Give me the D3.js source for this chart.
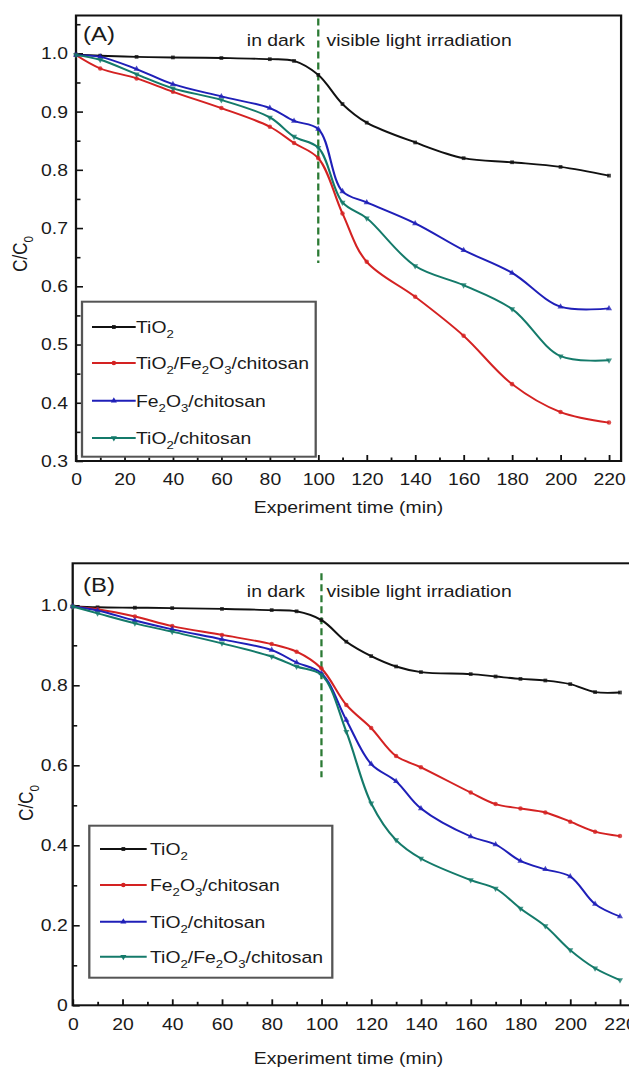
<!DOCTYPE html>
<html><head><meta charset="utf-8">
<script src="https://cdn.jsdelivr.net/npm/d3@7"></script>
<style>
html,body{margin:0;padding:0;background:#fff;}
svg{display:block;}
text{font-family:"Liberation Sans", Arial, sans-serif;}
</style>
</head><body><svg id="c"></svg>
<script>
// ---------------- DATA ----------------
const timeA = [0,10,25,40,60,80,90,100,110,120,140,160,180,200,220];
const tio2A        = [0.998,0.996,0.994,0.993,0.992,0.990,0.987,0.963,0.913,0.881,0.847,0.820,0.813,0.805,0.790];
const tio2Fe2o3ChA = [0.997,0.974,0.957,0.934,0.906,0.874,0.846,0.820,0.725,0.642,0.582,0.515,0.432,0.384,0.366];
const fe2o3ChA     = [0.997,0.994,0.973,0.947,0.926,0.906,0.884,0.870,0.763,0.744,0.708,0.662,0.623,0.565,0.562];
const tio2ChA      = [0.997,0.989,0.964,0.940,0.920,0.890,0.857,0.838,0.744,0.717,0.635,0.602,0.561,0.480,0.473];

const timeB = [0,10,25,40,60,80,90,100,110,120,130,140,160,170,180,190,200,210,220];
const tio2B        = [0.997,0.995,0.994,0.993,0.991,0.988,0.985,0.963,0.909,0.873,0.847,0.833,0.828,0.822,0.816,0.812,0.803,0.783,0.782];
const fe2o3ChB     = [0.997,0.990,0.972,0.948,0.926,0.903,0.884,0.842,0.751,0.693,0.623,0.595,0.532,0.503,0.492,0.482,0.459,0.434,0.423];
const tio2ChB      = [0.997,0.987,0.962,0.940,0.915,0.888,0.857,0.830,0.713,0.603,0.560,0.492,0.422,0.402,0.361,0.340,0.322,0.253,0.222];
const tio2Fe2o3ChB = [0.997,0.980,0.955,0.934,0.905,0.872,0.847,0.826,0.684,0.505,0.413,0.367,0.313,0.292,0.242,0.198,0.138,0.0925,0.063];

const namesA = ["TiO_2","TiO_2/Fe_2O_3/chitosan","Fe_2O_3/chitosan","TiO_2/chitosan"];
const namesB = ["TiO_2","Fe_2O_3/chitosan","TiO_2/chitosan","TiO_2/Fe_2O_3/chitosan"];

const xTicks = [0,20,40,60,80,100,120,140,160,180,200,220];
const xTickLabels = ["0","20","40","60","80","100","120","140","160","180","200","220"];
const xMinor = [10,30,50,70,90,110,130,150,170,190,210];
const yTicksA = [0.3,0.4,0.5,0.6,0.7,0.8,0.9,1.0];
const yTickLabelsA = ["0.3","0.4","0.5","0.6","0.7","0.8","0.9","1.0"];
const yMinorA = [0.35,0.45,0.55,0.65,0.75,0.85,0.95,1.05];
const yTicksB = [0,0.2,0.4,0.6,0.8,1.0];
const yTickLabelsB = ["0","0.2","0.4","0.6","0.8","1.0"];
const yMinorB = [0.1,0.3,0.5,0.7,0.9];

const darkLabel = "in dark";
const lightLabel = "visible light irradiation";
const xTitle = "Experiment time (min)";
const yTitle = "C/C_0";

// ---------------- STYLE / LAYOUT ----------------
const W = 629, H = 1068, S = 1.14;
const X = px => px / S;
const C = {black:"#111111", red:"#d42222", blue:"#1f1fb8", teal:"#147a6a"};

const svg = d3.select("#c").attr("width", W).attr("height", H)
  .attr("viewBox", `0 0 ${W/S} ${H}`).attr("preserveAspectRatio","none");

function rich(sel, s, fs) {
  const parts = s.split(/_(\d)/);
  let down = false;
  parts.forEach((p, i) => {
    const sub = i % 2 === 1;
    if (p === "") return;
    const t = sel.append("tspan").text(p);
    if (sub) { t.attr("font-size", fs*0.68).attr("dy", fs*0.32); down = true; }
    else if (down) { t.attr("dy", -fs*0.32); down = false; }
  });
}

const symbols = {
  square: d3.symbol().type(d3.symbolSquare).size(14)(),
  circle: d3.symbol().type(d3.symbolCircle).size(16)(),
  tri: d3.symbol().type(d3.symbolTriangle).size(16)(),
};

function drawPanel(cfg) {
  const g = svg.append("g");
  const x = d3.scaleLinear().domain([0,225]).range([X(cfg.left), X(cfg.right)]);
  const y = d3.scaleLinear().domain(cfg.yDomain).range([cfg.bottom, cfg.top]);

  const fs = 17;
  const xa = g.append("g").attr("transform", `translate(0,${cfg.bottom})`)
    .call(d3.axisBottom(x).tickValues(xTicks).tickSize(-6).tickPadding(cfg.xPad)
      .tickFormat((d,i) => xTickLabels[i]));
  const xm = g.append("g").attr("transform", `translate(0,${cfg.bottom})`)
    .call(d3.axisBottom(x).tickValues(xMinor).tickSize(-3.5).tickFormat(""));
  const ya = g.append("g").attr("transform", `translate(${X(cfg.left)},0)`)
    .call(d3.axisLeft(y).tickValues(cfg.yTicks).tickSize(-7/S).tickPadding(cfg.yPad/S)
      .tickFormat((d,i) => cfg.yLabels[i]));
  const ym = g.append("g").attr("transform", `translate(${X(cfg.left)},0)`)
    .call(d3.axisLeft(y).tickValues(cfg.yMinor).tickSize(-4.5/S).tickFormat(""));
  [xa, xm, ya, ym].forEach(a => {
    a.select(".domain").remove();
    a.attr("font-size", fs).attr("font-family", '"Liberation Sans", Arial, sans-serif');
    a.selectAll("line").attr("stroke", "#111").attr("stroke-width", 1.6);
    a.selectAll("text").attr("fill", "#1a1a1a");
  });

  g.append("rect").attr("x", X(cfg.left)).attr("y", cfg.top)
    .attr("width", X(cfg.right) - X(cfg.left)).attr("height", cfg.bottom - cfg.top)
    .attr("fill", "none").attr("stroke", "#111").attr("stroke-width", 2);

  g.append("line").attr("x1", x(100)).attr("x2", x(100))
    .attr("y1", y(cfg.dashTop)).attr("y2", y(cfg.dashBottom))
    .attr("stroke", "#2b7a34").attr("stroke-width", 2).attr("stroke-dasharray", "7,4");

  const line = d3.line().x(d => x(d[0])).y(d => y(d[1])).curve(d3.curveCatmullRom.alpha(0.5));
  cfg.series.forEach(s => {
    const pts = cfg.time.map((t, i) => [t, s.values[i]]);
    g.append("path").datum(pts).attr("d", line).attr("fill", "none")
      .attr("stroke", s.color).attr("stroke-width", 1.9);
    g.selectAll(null).data(pts).enter().append("path")
      .attr("d", symbols[s.sym])
      .attr("transform", d => `translate(${x(d[0])},${y(d[1])}) scale(${1/S},1) rotate(${s.rot||0})`)
      .attr("fill", s.color).attr("opacity", 0.8);
  });

  g.append("text").attr("x", X(cfg.labelX)).attr("y", cfg.labelY)
    .attr("font-size", 21).attr("fill", "#1a1a1a").text(cfg.label);
  g.append("text").attr("x", X(305)).attr("y", cfg.textY).attr("text-anchor", "end")
    .attr("font-size", 17).attr("fill", "#1a1a1a").text(darkLabel);
  g.append("text").attr("x", X(326.5)).attr("y", cfg.textY)
    .attr("font-size", 17).attr("fill", "#1a1a1a").text(lightLabel);

  g.append("text").attr("x", X(348.5)).attr("y", cfg.xTitleY).attr("text-anchor", "middle")
    .attr("font-size", 17).attr("fill", "#1a1a1a").text(xTitle);
  const yt = g.append("text").attr("transform", `translate(${X(cfg.yTitleX)},${cfg.yTitleY}) rotate(-90)`)
    .attr("text-anchor", "middle").attr("font-size", 17).attr("fill", "#1a1a1a");
  rich(yt, yTitle, 17);

  const L = cfg.legend;
  g.append("rect").attr("x", X(L.x0)).attr("y", L.y0)
    .attr("width", X(L.x1) - X(L.x0)).attr("height", L.y1 - L.y0)
    .attr("fill", "#fff").attr("stroke", "#555").attr("stroke-width", 2);
  cfg.series.forEach((s, i) => {
    const ry = L.rows[i];
    g.append("line").attr("x1", X(L.lx0)).attr("x2", X(L.lx1)).attr("y1", ry).attr("y2", ry)
      .attr("stroke", s.color).attr("stroke-width", 2);
    g.append("path").attr("d", symbols[s.sym])
      .attr("transform", `translate(${X((L.lx0 + L.lx1)/2)},${ry}) scale(${1/S},1) rotate(${s.rot||0})`)
      .attr("fill", s.color);
    const t = g.append("text").attr("x", X(L.tx)).attr("y", ry + 6)
      .attr("font-size", 17).attr("fill", "#1a1a1a");
    rich(t, s.name, 17);
  });
}

drawPanel({
  left: 76, right: 621.1, top: 15.5, bottom: 461, yDomain: [0.3, 1.065],
  yTicks: yTicksA, yLabels: yTickLabelsA, yMinor: yMinorA, xPad: 12, yPad: 8,
  dashTop: 1.06, dashBottom: 0.64,
  time: timeA,
  series: [
    {name: namesA[0], values: tio2A, color: C.black, sym: "square"},
    {name: namesA[1], values: tio2Fe2o3ChA, color: C.red, sym: "circle"},
    {name: namesA[2], values: fe2o3ChA, color: C.blue, sym: "tri"},
    {name: namesA[3], values: tio2ChA, color: C.teal, sym: "tri", rot: 180},
  ],
  label: "(A)", labelX: 83, labelY: 40.7, textY: 45.7,
  xTitleY: 513, yTitleX: 27, yTitleY: 254,
  legend: {x0: 82, x1: 315.7, y0: 301.7, y1: 456.7, lx0: 92, lx1: 135.7, tx: 136,
           rows: [327, 363, 400.7, 438]}
});

drawPanel({
  left: 72.7, right: 632.4, top: 563.3, bottom: 1005.3, yDomain: [0, 1.105],
  yTicks: yTicksB, yLabels: yTickLabelsB, yMinor: yMinorB, xPad: 12.7, yPad: 5,
  dashTop: 1.08, dashBottom: 0.57,
  time: timeB,
  series: [
    {name: namesB[0], values: tio2B, color: C.black, sym: "square"},
    {name: namesB[1], values: fe2o3ChB, color: C.red, sym: "circle"},
    {name: namesB[2], values: tio2ChB, color: C.blue, sym: "tri"},
    {name: namesB[3], values: tio2Fe2o3ChB, color: C.teal, sym: "tri", rot: 180},
  ],
  label: "(B)", labelX: 83, labelY: 591.7, textY: 596.7,
  xTitleY: 1064, yTitleX: 33, yTitleY: 803,
  legend: {x0: 89.3, x1: 332.3, y0: 825.7, y1: 977.7, lx0: 100, lx1: 146.7, tx: 150,
           rows: [849, 885, 921.7, 956.7]}
});
</script>
</body></html>
